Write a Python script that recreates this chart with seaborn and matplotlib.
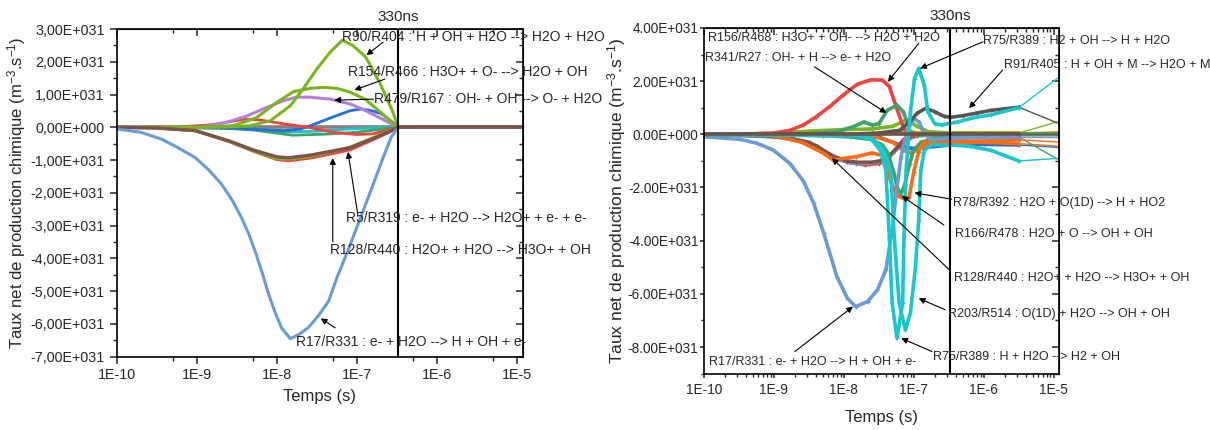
"""
Net chemical production rates vs time: two panels, 330 ns marker.
"""

import matplotlib
matplotlib.use("Agg")

import matplotlib.pyplot as plt
import numpy as np
import seaborn as sns
from matplotlib.ticker import (
    FuncFormatter,
    LogLocator,
    MultipleLocator,
    NullFormatter,
)

# ==========================================================
# Data (time as log10(s), rates in units of 1E+31 m^-3.s^-1)
# ==========================================================

T_MARK = 3.3e-7

# ---- left panel ----
l_r17_t = [-10, -9.7, -9.44, -9.25, -9.02, -8.85, -8.69, -8.55, -8.44, -8.35,
           -8.27, -8.18, -8.10, -8.02, -7.94, -7.83, -7.72, -7.60, -7.48, -7.35,
           -7.25, -7.10, -6.96, -6.81, -6.67, -6.57, -6.48, -6.0, -4.9]
l_r17_v = [-0.05, -0.15, -0.36, -0.6, -0.92, -1.3, -1.73, -2.25, -2.76, -3.25,
           -3.78, -4.45, -5.10, -5.65, -6.12, -6.45, -6.32, -6.10, -5.75, -5.30,
           -4.60, -3.70, -2.80, -1.84, -0.92, -0.30, 0.0, 0.0, 0.0]

l_r90_t = [-10, -9.0, -8.6, -8.33, -8.08, -7.83, -7.67, -7.50, -7.33, -7.18,
           -7.05, -6.89, -6.71, -6.56, -6.48, -4.9]
l_r90_v = [0, 0, 0.01, 0.05, 0.2, 0.66, 1.17, 1.78, 2.3, 2.66,
           2.5, 2.15, 1.35, 0.53, 0, 0]

l_r154_t = [-10, -9.0, -8.54, -8.25, -8.0, -7.79, -7.58, -7.42, -7.25, -7.08,
            -6.89, -6.7, -6.58, -6.48, -4.9]
l_r154_v = [0, 0, 0.05, 0.3, 0.76, 1.09, 1.19, 1.22, 1.19, 1.07,
            0.85, 0.45, 0.2, 0, 0]

l_r479_t = [-10, -8.96, -8.63, -8.38, -8.17, -7.92, -7.75, -7.58, -7.33, -7.08,
            -6.89, -6.64, -6.48, -4.9]
l_r479_v = [0, 0, 0.15, 0.34, 0.56, 0.81, 0.92, 0.92, 0.86, 0.71,
            0.51, 0.2, 0, 0]

l_red_t = [-10, -9.3, -8.8, -8.4, -8.2, -7.9, -7.6, -7.3, -7.0, -6.8, -6.6, -6.48, -4.9]
l_red_v = [0, 0, 0.08, 0.25, 0.22, 0.1, 0.0, -0.15, -0.22, -0.2, -0.08, 0, 0]

l_blue_t = [-10, -8.6, -8.2, -7.9, -7.7, -7.58, -7.42, -7.25, -7.08, -6.94,
            -6.8, -6.69, -6.55, -6.48, -4.9]
l_blue_v = [0, -0.03, -0.07, -0.1, -0.05, 0.05, 0.2, 0.36, 0.51, 0.56,
            0.5, 0.41, 0.15, 0, 0]

l_teal_t = [-10, -8.8, -8.3, -7.9, -7.5, -7.1, -6.8, -6.48, -4.9]
l_teal_v = [0, 0, -0.05, -0.14, -0.12, -0.05, -0.02, 0, 0]

l_sea_t = [-10, -8.8, -8.3, -7.8, -7.4, -7.0, -6.7, -6.48, -4.9]
l_sea_v = [0, 0, -0.08, -0.24, -0.21, -0.15, -0.06, 0, 0]

l_neg_t = [-10, -9.5, -9.02, -8.6, -8.27, -8.0, -7.85, -7.56, -7.3, -7.08,
           -6.8, -6.6, -6.48, -4.9]
l_r128_v = [0, -0.02, -0.1, -0.41, -0.71, -0.9, -0.93, -0.84, -0.72, -0.62,
            -0.35, -0.14, 0, 0]
l_r5_v = [0, -0.02, -0.1, -0.43, -0.75, -0.98, -1.02, -0.93, -0.80, -0.68,
          -0.38, -0.15, 0, 0]
l_lime2_v = [0, -0.02, -0.1, -0.42, -0.74, -0.95, -0.97, -0.88, -0.74, -0.60,
             -0.32, -0.12, 0, 0]

l_flat_t = [-10, -8.0, -6.48, -4.9]
l_flat_v = [0, 0, 0, 0]

# ---- right panel ----
r_r17_t = [-10, -9.48, -9.24, -9.01, -8.77, -8.58, -8.43, -8.29, -8.10, -7.95,
           -7.83, -7.66, -7.52, -7.40, -7.31, -7.25, -7.18, -7.10, -7.00, -6.92,
           -6.85, -6.75, -6.48, -6.0, -5.5, -4.9]
r_r17_v = [-0.09, -0.19, -0.34, -0.59, -1.1, -1.75, -2.6, -3.7, -5.35, -6.17,
           -6.48, -6.29, -5.85, -5.1, -3.6, -2.2, -0.8, 0.1, 0.6, 0.45,
           0.0, -0.2, -0.15, -0.1, -0.1, -0.1]

r_r156_t = [-10, -9.5, -9.0, -8.77, -8.58, -8.4, -8.2, -8.0, -7.81, -7.62,
            -7.45, -7.35, -7.26, -7.16, -7.09, -7.0, -6.48, -4.9]
r_r156_v = [0, 0, 0.05, 0.15, 0.35, 0.65, 1.05, 1.5, 1.88, 2.05,
            2.04, 1.8, 1.1, 0.35, 0.0, -0.05, 0, 0]

r_red2_t = [-10, -9.0, -8.77, -8.5, -8.2, -7.95, -7.7, -7.5, -7.3, -7.15, -7.0, -6.48, -4.9]
r_red2_v = [0, -0.08, -0.15, -0.32, -0.75, -1.05, -1.15, -1.1, -0.7, -0.2, 0.0, 0, 0]

r_r128_t = [-10, -9.5, -9.0, -8.77, -8.5, -8.38, -8.15, -7.95, -7.82, -7.6,
            -7.49, -7.35, -7.2, -7.05, -6.9, -4.9]
r_r128_v = [-0.02, -0.03, -0.08, -0.15, -0.3, -0.45, -0.84, -1.0, -1.05, -1.05,
            -1.0, -0.8, -0.4, -0.1, 0, 0]
r_steel_v = [-0.02, -0.04, -0.1, -0.18, -0.35, -0.5, -0.9, -1.05, -1.1, -1.08,
             -1.02, -0.85, -0.45, -0.15, 0, 0]

r_r75_t = [-10, -7.8, -7.6, -7.48, -7.40, -7.35, -7.31, -7.24, -7.16, -7.14,
           -7.11, -7.05, -6.99, -6.93, -6.85, -6.80, -6.70, -6.60, -6.48, -6.37,
           -6.1, -5.9, -5.5, -4.9]
r_r75_v = [0, -0.05, -0.2, -0.6, -1.34, -3.85, -6.35, -7.67, -6.35, -3.85,
           -1.34, 0.8, 2.1, 2.48, 1.85, 0.85, 0.4, 0.35, 0.42, 0.47,
           0.65, 0.73, 1.0, 2.2]

r_r203_t = [-10, -7.8, -7.6, -7.45, -7.33, -7.28, -7.21, -7.12, -7.05, -6.98,
            -6.93, -6.90, -6.85, -6.75, -6.48, -6.2, -5.9, -5.5, -4.9]
r_r203_v = [0, -0.05, -0.15, -0.5, -1.34, -3.85, -6.35, -7.36, -6.73, -5.1,
            -3.22, -1.34, -0.6, -0.4, -0.4, -0.45, -0.6, -1.0, -0.9]

r_r91_t = [-10, -8.0, -7.5, -7.2, -7.05, -6.95, -6.83, -6.7, -6.57, -6.48,
           -6.3, -6.1, -5.9, -5.5, -4.9]
r_r91_v = [0, 0, 0.05, 0.15, 0.5, 0.8, 0.98, 0.85, 0.68, 0.64,
           0.7, 0.8, 0.9, 1.02, 0.38]

r_r78_t = [-10, -9.0, -8.6, -8.3, -8.15, -7.99, -7.82, -7.6, -7.45, -7.33,
           -7.24, -7.12, -7.07, -7.0, -6.93, -6.86, -6.48, -6.0, -5.5, -4.9]
r_r78_v = [0, -0.05, -0.3, -0.7, -0.97, -0.9, -0.84, -0.7, -0.8, -1.78,
           -2.3, -2.45, -2.4, -1.4, -0.65, -0.3, -0.25, -0.25, -0.2, -0.3]

r_orange2_t = [-10, -7.6, -7.3, -7.15, -7.05, -6.95, -6.8, -6.48, -6.0, -5.5, -4.9]
r_orange2_v = [0, -0.05, -0.3, -0.6, -0.7, -0.6, -0.35, -0.3, -0.3, -0.35, -0.45]

r_r341_t = [-10, -8.5, -8.1, -7.85, -7.71, -7.6, -7.5, -7.38, -7.24, -7.15,
            -7.05, -6.95, -6.48, -4.9]
r_r341_v = [0, 0.02, 0.1, 0.3, 0.47, 0.35, 0.4, 0.9, 1.1, 0.85,
            0.1, -0.05, 0, 0]

r_r166_t = [-10, -8.3, -7.9, -7.6, -7.45, -7.37, -7.28, -7.24, -7.19, -7.13,
            -7.06, -7.0, -6.9, -6.7, -6.48, -6.0, -5.5, -4.9]
r_r166_v = [0, -0.05, -0.1, -0.2, -0.4, -0.7, -1.5, -1.97, -2.28, -1.9,
            -1.1, -0.6, -0.3, -0.15, -0.1, -0.1, -0.1, -1.0]

r_lime_t = [-10, -9.0, -8.5, -8.0, -7.6, -7.3, -7.1, -6.95, -6.8, -6.48, -5.5, -4.9]
r_lime_v = [0, 0.03, 0.12, 0.18, 0.2, 0.3, 0.55, 0.3, 0.1, 0.05, 0.05, 0.5]

r_blue_t = [-10, -8.0, -7.5, -7.2, -7.04, -6.85, -6.48, -6.0, -5.5, -4.9]
r_blue_v = [0, -0.02, -0.1, -0.4, -0.53, -0.5, -0.4, -0.38, -0.4, -0.5]

r_olive_t = [-10, -7.5, -7.2, -6.9, -6.48, -5.5, -4.9]
r_olive_v = [0, 0.02, 0.15, 0.05, 0.05, 0.05, 0.1]

r_flat_t = [-10, -9.0, -8.0, -7.0, -6.48, -6.0, -5.5, -4.9]
r_flat_v = [0, 0, 0, 0, 0, 0, 0, 0]

# ==========================================================
# Style
# ==========================================================

sns.set_style("ticks")
plt.rcParams["font.family"] = ["Liberation Sans", "DejaVu Sans"]
plt.rcParams["mathtext.default"] = "regular"

C_LBLUE = "#6b9bd3"
C_RED = "#f0423f"
C_LIME = "#7ab51d"
C_PURPLE = "#b47fd8"
C_BLUE = "#2070e0"
C_BROWN = "#7b554c"
C_TEAL = "#20c0c8"
C_SEA = "#3aa56a"
C_CYAN = "#16c8cc"
C_ORANGE = "#ff6a13"
C_GRAY = "#555555"
C_OLIVE = "#c9a800"

YLABEL = "Taux net de production chimique (m$^{-3}$.s$^{-1}$)"
T_SPLIT = -5.5  # last, coarse time step of the right-hand simulation


def draw(ax, t, v, color, lw=2.0, marker=None):
    sns.lineplot(
        x=10.0 ** np.asarray(t),
        y=np.asarray(v) * 1e31,
        ax=ax,
        color=color,
        lw=lw,
        marker=marker,
        markersize=3.5,
        markeredgewidth=0.9,
        markeredgecolor=color,
        estimator=None,
        sort=False,
    )


def draw_right(ax, t, v, color):
    # dense part drawn thick, the coarse final step drawn thin
    if T_SPLIT in t:
        i = t.index(T_SPLIT)
        draw(ax, t[:i + 1], v[:i + 1], color, 2.6, "+")
        draw(ax, t[i:], v[i:], color, 1.0, "+")
    else:
        draw(ax, t, v, color, 2.6, "+")


def sci_label(v, comma):
    if v == 0:
        s = "0.00E+000"
    else:
        e = int(np.floor(np.log10(abs(v)) + 1e-9))
        m = v / 10.0 ** e
        s = f"{m:.2f}E{'+' if e >= 0 else '-'}{abs(e):03d}"
    return s.replace(".", ",") if comma else s


def style_axis(ax, ylim, ymajor, yminor, comma, xminor_subs,
               tick_fs, xlabel_fs, ylabel_fs, tick_len=5, ypad=3.5):
    ax.set_xscale("log")
    ax.set_xlim(1e-10, 1.2e-5)
    ax.set_ylim(*ylim)

    ax.xaxis.set_major_locator(LogLocator(base=10, numticks=12))
    ax.xaxis.set_minor_locator(LogLocator(base=10, subs=xminor_subs, numticks=12))
    ax.xaxis.set_minor_formatter(NullFormatter())
    ax.xaxis.set_major_formatter(
        FuncFormatter(lambda v, p: f"1E{int(round(np.log10(v)))}")
    )
    ax.yaxis.set_major_locator(MultipleLocator(ymajor))
    ax.yaxis.set_minor_locator(MultipleLocator(yminor))
    ax.yaxis.set_major_formatter(FuncFormatter(lambda v, p: sci_label(v, comma)))

    ax.tick_params(which="major", direction="out", length=tick_len, width=1.1,
                   labelsize=tick_fs)
    ax.tick_params(which="minor", direction="out", length=tick_len * 0.6, width=1.0)
    ax.tick_params(axis="y", pad=ypad)

    for sp in ax.spines.values():
        sp.set_visible(True)
        sp.set_linewidth(1.2)
        sp.set_color("black")

    # mirrored inward ticks on top and right
    top = ax.secondary_xaxis("top")
    top.xaxis.set_major_locator(LogLocator(base=10, numticks=12))
    top.xaxis.set_minor_locator(LogLocator(base=10, subs=xminor_subs, numticks=12))
    top.xaxis.set_major_formatter(NullFormatter())
    top.xaxis.set_minor_formatter(NullFormatter())
    top.tick_params(which="major", direction="in", length=5, width=1.1)
    top.tick_params(which="minor", direction="in", length=3, width=1.0)

    right = ax.secondary_yaxis("right")
    right.yaxis.set_major_locator(MultipleLocator(ymajor))
    right.yaxis.set_minor_locator(MultipleLocator(yminor))
    right.yaxis.set_major_formatter(NullFormatter())
    right.tick_params(which="major", direction="in", length=5, width=1.1)
    right.tick_params(which="minor", direction="in", length=3, width=1.0)

    ax.axvline(T_MARK, color="black", lw=1.5, zorder=5)
    ax.text(T_MARK, 1.015, "330ns", transform=ax.get_xaxis_transform(),
            ha="center", va="bottom", fontsize=11)

    ax.set_xlabel("Temps (s)", fontsize=xlabel_fs)
    ax.set_ylabel(YLABEL, fontsize=ylabel_fs)
    ax.grid(False)


def note(ax, text, xy, xytext, tail=None, fs=10):
    x0, y0 = 10.0 ** xytext[0], xytext[1] * 1e31
    ax.annotate(
        text,
        xy=(10.0 ** xy[0], xy[1] * 1e31),
        xytext=(x0, y0),
        fontsize=fs,
        ha="left",
        va="center",
        annotation_clip=False,
        zorder=6,
    )
    if tail is not None:
        ax.annotate(
            "",
            xy=(10.0 ** xy[0], xy[1] * 1e31),
            xytext=(10.0 ** tail[0], tail[1] * 1e31),
            arrowprops=dict(arrowstyle="-|>", color="black", lw=0.8,
                            mutation_scale=9, shrinkA=0, shrinkB=0),
            annotation_clip=False,
            zorder=6,
        )


fig = plt.figure(figsize=(12.1, 4.3), dpi=100)
ax1 = fig.add_axes([0.0964, 0.1705, 0.336, 0.762])
ax2 = fig.add_axes([0.5818, 0.1312, 0.2936, 0.8037])

# ==========================================================
# Left panel
# ==========================================================

draw(ax1, l_flat_t, l_flat_v, "#8c7f7b", lw=2.6)
draw(ax1, l_teal_t, l_teal_v, C_TEAL)
draw(ax1, l_sea_t, l_sea_v, C_SEA)
draw(ax1, l_blue_t, l_blue_v, C_BLUE)
draw(ax1, l_red_t, l_red_v, C_RED)
draw(ax1, l_r479_t, l_r479_v, C_PURPLE, lw=2.2)
draw(ax1, l_r154_t, l_r154_v, C_LIME, lw=2.2)
draw(ax1, l_r90_t, l_r90_v, C_LIME, lw=2.2)
draw(ax1, l_neg_t, l_r5_v, C_RED, lw=2.2)
draw(ax1, l_neg_t, l_lime2_v, C_LIME, lw=2.2)
draw(ax1, l_neg_t, l_r128_v, C_BROWN, lw=2.4)
draw(ax1, l_r17_t, l_r17_v, C_LBLUE, lw=2.2)
draw(ax1, [-6.48, -4.9], [0, 0], C_BROWN, lw=2.6)

style_axis(ax1, (-7e31, 3e31), 1e31, 0.5e31, True, [5.0],
           tick_fs=10.3, xlabel_fs=12, ylabel_fs=12)
ax1.yaxis.set_label_coords(-0.218, 0.5)
ax1.xaxis.set_label_coords(0.5, -0.098)

note(ax1, "R90/R404 : H + OH + H2O --> H2O + H2O", (-6.88, 2.2), (-7.18, 2.76), (-6.67, 2.6))
note(ax1, "R154/R466 : H3O+ + O- --> H2O + OH", (-7.03, 1.14), (-7.11, 1.69), (-6.65, 1.47))
note(ax1, "R479/R167 : OH- + OH --> O- + H2O", (-7.28, 0.83), (-6.79, 0.86), (-6.79, 0.86))
note(ax1, "R5/R319 : e- + H2O --> H2O+ + e- + e-", (-7.11, -0.75), (-7.13, -2.77), (-6.99, -2.62))
note(ax1, "R128/R440 : H2O+ + H2O --> H3O+ + OH", (-7.30, -0.94), (-7.33, -3.74), (-7.30, -3.49))
note(ax1, "R17/R331 : e- + H2O --> H + OH + e-", (-7.45, -5.83), (-7.76, -6.54), (-7.27, -6.12))

# ==========================================================
# Right panel
# ==========================================================

draw_right(ax2, r_olive_t, r_olive_v, C_OLIVE)
draw_right(ax2, r_lime_t, r_lime_v, C_LIME)
draw_right(ax2, r_blue_t, r_blue_v, C_BLUE)
draw_right(ax2, r_orange2_t, r_orange2_v, C_ORANGE)
draw_right(ax2, r_red2_t, r_red2_v, C_RED)
draw_right(ax2, r_r128_t, r_steel_v, C_LBLUE)
draw_right(ax2, r_r128_t, r_r128_v, C_BROWN)
draw_right(ax2, r_r156_t, r_r156_v, C_RED)
draw_right(ax2, r_r341_t, r_r341_v, C_SEA)
draw_right(ax2, r_r166_t, r_r166_v, C_SEA)
draw_right(ax2, r_r78_t, r_r78_v, C_ORANGE)
draw_right(ax2, r_r17_t, r_r17_v, C_LBLUE)
draw_right(ax2, r_r91_t, r_r91_v, C_GRAY)
draw_right(ax2, r_r203_t, r_r203_v, C_CYAN)
draw_right(ax2, r_r75_t, r_r75_v, C_CYAN)
draw_right(ax2, r_flat_t, r_flat_v, "#6b524c")

style_axis(ax2, (-9e31, 4e31), 2e31, 1e31, False, np.arange(2, 10),
           tick_fs=9.8, xlabel_fs=12, ylabel_fs=12.5, tick_len=3.2, ypad=0.8)
ax2.yaxis.set_label_coords(-0.2125, 0.5)
ax2.xaxis.set_label_coords(0.5, -0.104)

RF = 9
note(ax2, "R156/R468 : H3O+ + OH- --> H2O + H2O", (-7.37, 1.98), (-9.94, 3.61), (-6.93, 3.42), fs=RF)
note(ax2, "R341/R27 : OH- + H --> e- + H2O", (-7.39, 0.8), (-9.99, 2.89), (-8.42, 2.54), fs=RF)
note(ax2, "R75/R389 : H2 + OH --> H + H2O", (-6.91, 2.48), (-6.01, 3.52), (-6.01, 3.48), fs=RF)
note(ax2, "R91/R405 : H + OH + M --> H2O + M", (-6.21, 0.98), (-5.71, 2.6), (-5.73, 2.42), fs=RF)
note(ax2, "R78/R392 : H2O + O(1D) --> H + HO2", (-6.99, -2.2), (-6.44, -2.57), (-6.46, -2.44), fs=RF)
note(ax2, "R166/R478 : H2O + O --> OH + OH", (-7.17, -2.32), (-6.41, -3.75), (-6.57, -3.41), fs=RF)
note(ax2, "R128/R440 : H2O+ + H2O --> H3O+ + OH", (-8.17, -0.9), (-6.42, -5.41), (-6.49, -5.1), fs=RF)
note(ax2, "R203/R514 : O(1D) + H2O --> OH + OH", (-6.93, -6.17), (-6.51, -6.77), (-6.55, -6.6), fs=RF)
note(ax2, "R75/R389 : H + H2O --> H2 + OH", (-7.18, -7.67), (-6.72, -8.38), (-6.74, -8.17), fs=RF)
note(ax2, "R17/R331 : e- + H2O --> H + OH + e-", (-7.87, -6.48), (-9.93, -8.55), (-8.70, -8.17), fs=RF)

fig.savefig("out.png", dpi=100)
